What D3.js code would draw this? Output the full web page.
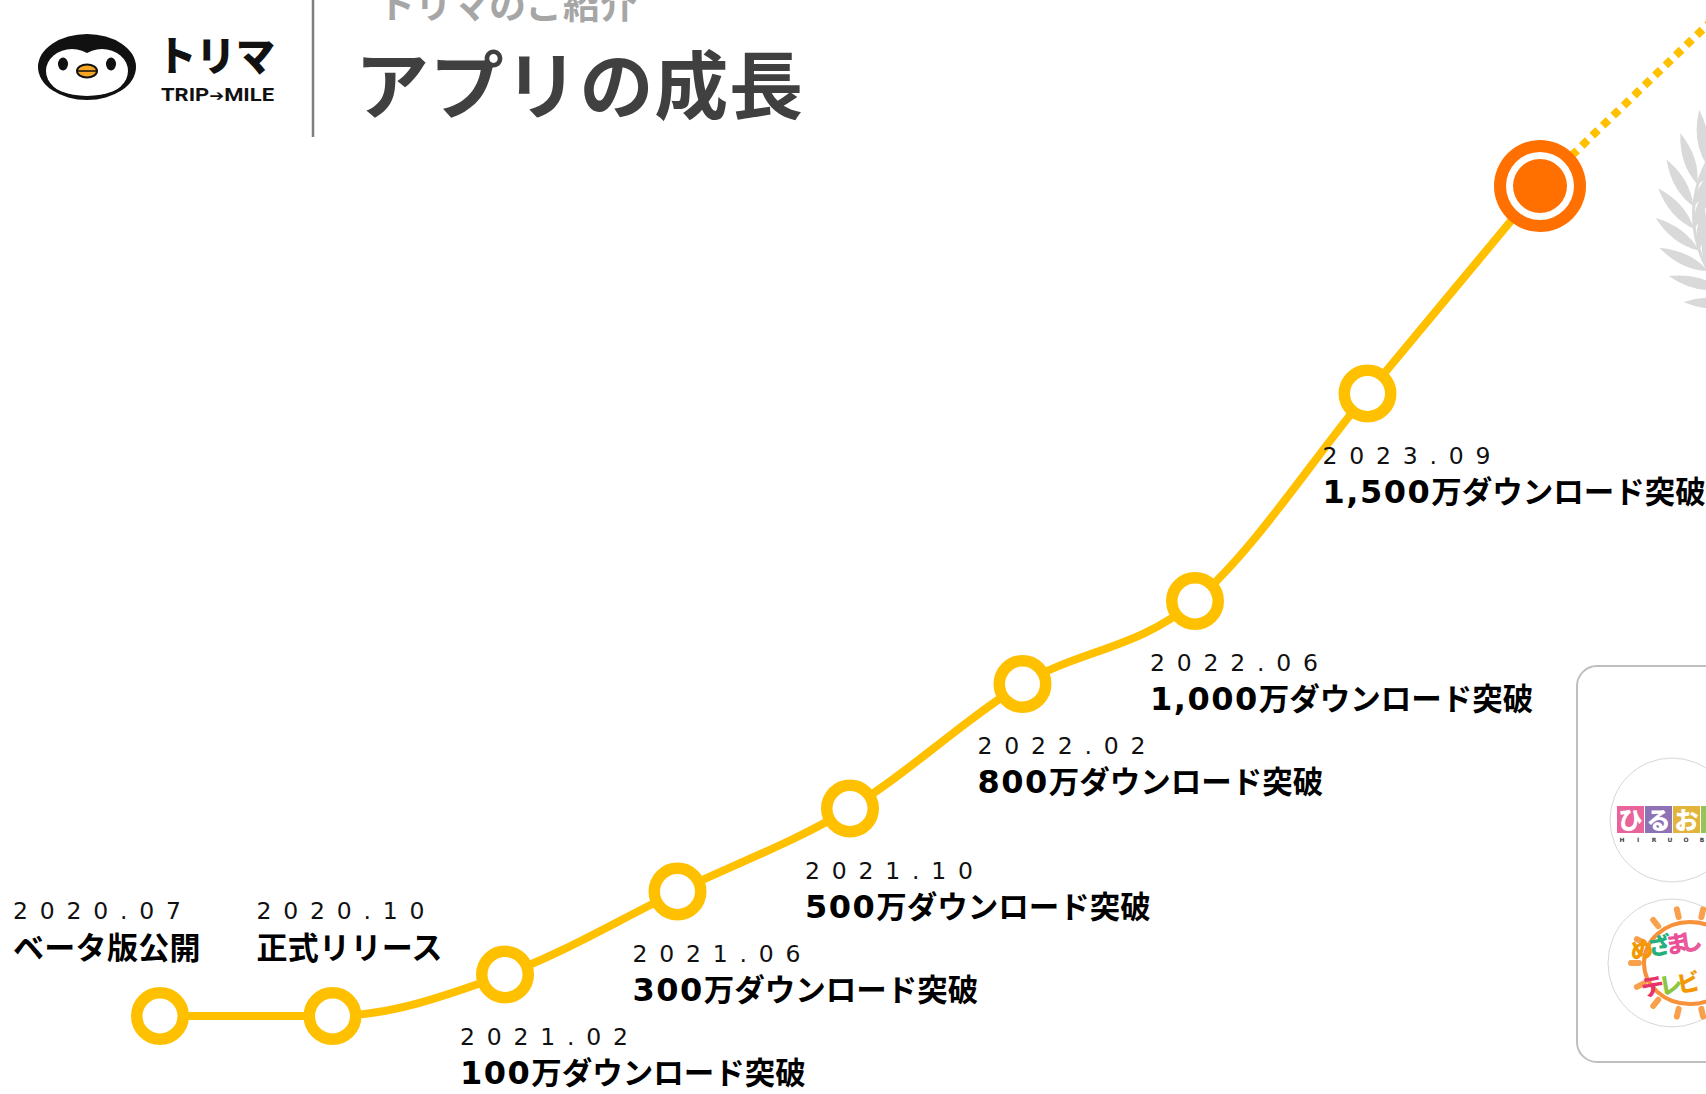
<!DOCTYPE html>
<html><head><meta charset="utf-8">
<script src="https://cdn.jsdelivr.net/npm/d3@7"></script>
<style>html,body{margin:0;padding:0;background:#fff;overflow:hidden}</style>
</head><body>
<svg id="c" width="1706" height="1094" xmlns="http://www.w3.org/2000/svg"></svg>
<script>
// ---------------- data ----------------
const dates = ["2020.07","2020.10","2021.02","2021.06","2021.10","2022.02","2022.06","2023.09"];
const downloads = [0, 0, 100, 300, 500, 800, 1000, 1500];          // 万ダウンロード
const events = ["ベータ版公開", "正式リリース", null, null, null, null, null, null];
const milestoneSuffix = "万ダウンロード突破";
const currentDownloads = 2000;     // large orange marker (estimated)
const projectedDownloads = 2400;   // direction of the dotted projection (estimated)
const title = "アプリの成長";
const subtitle = "トリマのご紹介";

// ---------------- layout ----------------
const W = 1706, H = 1094;
const YELLOW = "#FFC000", ORANGE = "#FF7000";
const svg = d3.select("#c");
svg.append("rect").attr("width", W).attr("height", H).attr("fill", "#fff");

const cats = [...dates, "now", "next"];
const x = d3.scalePoint().domain(cats).range([160, 1712.5]);
const y = d3.scaleLinear().domain([0, 2000]).range([1016, 186]);

const pts = dates.map((d, i) => ({key: d, v: downloads[i], ev: events[i], i}));
const nowPt = {key: "now", v: currentDownloads};
const nextPt = {key: "next", v: projectedDownloads};

// ---------------- header ----------------
const hdr = svg.append("g");
hdr.append("text").attr("x", 378).attr("y", 19)
  .attr("font-family", "'Noto Sans CJK JP'").attr("font-weight", 700)
  .attr("font-size", 37).attr("fill", "#a6a6a6").text(subtitle);
hdr.append("text").attr("x", 355).attr("y", 113)
  .attr("font-family", "'Noto Sans CJK JP'").attr("font-weight", 700)
  .attr("font-size", 74).attr("letter-spacing", 0.8).attr("fill", "#404040").text(title);
hdr.append("line").attr("x1", 313).attr("x2", 313).attr("y1", 0).attr("y2", 137)
  .attr("stroke", "#7f7f7f").attr("stroke-width", 2.5);

// penguin logo
const pg = hdr.append("g");
pg.append("ellipse").attr("cx", 87).attr("cy", 67).attr("rx", 49).attr("ry", 33).attr("fill", "#111");
pg.append("ellipse").attr("cx", 72).attr("cy", 71).attr("rx", 26).attr("ry", 22).attr("fill", "#fff");
pg.append("ellipse").attr("cx", 102).attr("cy", 71).attr("rx", 26).attr("ry", 22).attr("fill", "#fff");
pg.append("ellipse").attr("cx", 87).attr("cy", 81).attr("rx", 36).attr("ry", 15).attr("fill", "#fff");
pg.append("ellipse").attr("cx", 63).attr("cy", 64).attr("rx", 5).attr("ry", 6.5).attr("fill", "#111");
pg.append("ellipse").attr("cx", 111).attr("cy", 64).attr("rx", 5).attr("ry", 6.5).attr("fill", "#111");
pg.append("ellipse").attr("cx", 87).attr("cy", 71).attr("rx", 10).attr("ry", 6.5)
  .attr("fill", "#f5a623").attr("stroke", "#111").attr("stroke-width", 2);
pg.append("line").attr("x1", 78).attr("x2", 96).attr("y1", 71).attr("y2", 71)
  .attr("stroke", "#111").attr("stroke-width", 1.5);

hdr.append("text").attr("x", 157).attr("y", 71)
  .attr("font-family", "'Noto Sans CJK JP'").attr("font-weight", 900)
  .attr("font-size", 41).attr("textLength", 118).attr("lengthAdjust", "spacingAndGlyphs")
  .attr("fill", "#111").text("トリマ");
const tm = hdr.append("text").attr("x", 161).attr("y", 101)
  .attr("font-family", "Roboto").attr("font-weight", 700)
  .attr("font-size", 18.5).attr("textLength", 113).attr("lengthAdjust", "spacingAndGlyphs")
  .attr("fill", "#111");
tm.append("tspan").text("TRIP");
tm.append("tspan").attr("font-family", "'DejaVu Sans'").attr("font-size", 15).text("➔");
tm.append("tspan").text("MILE");

// ---------------- laurel (decor) ----------------
const laurel = svg.append("g").attr("fill", "#d9d9d9");
const lc = {x: 1805, y: 215};
function leaf(cx, cy, dirx, diry, len, wid) {
  const phi = Math.atan2(dirx, -diry) * 180 / Math.PI;
  laurel.append("path")
    .attr("d", `M0,0 Q${wid},${-len*0.45} 0,${-len} Q${-wid},${-len*0.45} 0,0Z`)
    .attr("transform", `translate(${cx},${cy}) rotate(${phi})`);
}
laurel.append("path")
  .attr("d", d3.arc()({innerRadius: 110, outerRadius: 113, startAngle: -Math.PI*0.92, endAngle: -Math.PI*0.2}))
  .attr("transform", `translate(${lc.x},${lc.y})`);
for (let k = 0; k < 9; k++) {
  const th = (127 + k * 11.5) * Math.PI / 180;
  const r = 112;
  const px = lc.x + r * Math.cos(th), py = lc.y + r * Math.sin(th);
  const t = [-Math.sin(th), Math.cos(th)], n = [Math.cos(th), Math.sin(th)];
  const a = 0.6;
  leaf(px, py, t[0]*Math.cos(a) + n[0]*Math.sin(a), t[1]*Math.cos(a) + n[1]*Math.sin(a), 54, 11);
  const b = -0.45;
  leaf(px, py, t[0]*Math.cos(b) + n[0]*Math.sin(b), t[1]*Math.cos(b) + n[1]*Math.sin(b), 44, 9);
}

// ---------------- media card (decor) ----------------
const card = svg.append("g");
card.append("rect").attr("x", 1577).attr("y", 666).attr("width", 220).attr("height", 396)
  .attr("rx", 20).attr("fill", "#fff").attr("stroke", "#bfbfbf").attr("stroke-width", 2);
card.append("circle").attr("cx", 1672).attr("cy", 820).attr("r", 62)
  .attr("fill", "#fff").attr("stroke", "#d6d6d6").attr("stroke-width", 1);
card.append("circle").attr("cx", 1672).attr("cy", 963).attr("r", 64)
  .attr("fill", "#fff").attr("stroke", "#d6d6d6").attr("stroke-width", 1);
const hiruCols = ["#e8649b", "#8e72b5", "#e3b43c", "#95c557"];
const hiruChars = ["ひ", "る", "お", "び"];
hiruCols.forEach((c, i) => {
  card.append("rect").attr("x", 1617 + i * 28).attr("y", 806).attr("width", 27).attr("height", 27).attr("fill", c);
  if (1617 + i * 28 + 14 < W)
    card.append("text").attr("x", 1630.5 + i * 28).attr("y", 829).attr("text-anchor", "middle")
      .attr("font-family", "'Noto Sans CJK JP'").attr("font-weight", 900).attr("font-size", 24)
      .attr("fill", "#fff").text(hiruChars[i]);
});
"HIRUOB".split("").forEach((ch, i) => {
  card.append("text").attr("x", 1622 + i * 16).attr("y", 842).attr("text-anchor", "middle")
    .attr("font-family", "DejaVu Sans").attr("font-weight", 700).attr("font-size", 6)
    .attr("fill", "#444").text(ch);
});
const mz = {x: 1690, y: 963};
for (let k = 0; k < 14; k++) {
  const th = k / 14 * 2 * Math.PI;
  card.append("line")
    .attr("x1", mz.x + 51 * Math.cos(th)).attr("y1", mz.y + 47 * Math.sin(th))
    .attr("x2", mz.x + 59 * Math.cos(th)).attr("y2", mz.y + 55 * Math.sin(th))
    .attr("stroke", "#f8a04c").attr("stroke-width", 6).attr("stroke-linecap", "round");
}
card.append("ellipse").attr("cx", mz.x).attr("cy", mz.y).attr("rx", 46).attr("ry", 41)
  .attr("fill", "#fff").attr("stroke", "#f7923a").attr("stroke-width", 4);
[["め", "#f39800", 1643, 958], ["ざ", "#23b07a", 1661, 954], ["ま", "#e95098", 1678, 952], ["し", "#ea5a9c", 1692, 950],
 ["テ", "#e8336d", 1654, 995], ["レ", "#8cc63f", 1672, 993], ["ビ", "#f39800", 1690, 991]].forEach(([ch, c, cx, cy]) => {
  card.append("text").attr("x", cx).attr("y", cy).attr("text-anchor", "middle")
    .attr("font-family", "'Noto Sans CJK JP'").attr("font-weight", 900).attr("font-size", 23)
    .attr("fill", c).attr("transform", `rotate(-10 ${cx} ${cy})`).text(ch);
});

// ---------------- growth line ----------------
const line = d3.line().x(d => x(d.key)).y(d => y(d.v));
svg.append("path").datum([nowPt, nextPt]).attr("d", line)
  .attr("fill", "none").attr("stroke", YELLOW).attr("stroke-width", 8)
  .attr("stroke-dasharray", "8 6.5");
svg.append("path").datum([...pts, nowPt]).attr("d", line.curve(d3.curveMonotoneX))
  .attr("fill", "none").attr("stroke", YELLOW).attr("stroke-width", 8);

svg.append("g").selectAll("circle").data(pts).join("circle")
  .attr("cx", d => x(d.key)).attr("cy", d => y(d.v)).attr("r", 23.25)
  .attr("fill", "#fff").attr("stroke", YELLOW).attr("stroke-width", 11.5);

const now = svg.append("g");
now.append("circle").attr("cx", x(nowPt.key)).attr("cy", y(nowPt.v)).attr("r", 46).attr("fill", ORANGE);
now.append("circle").attr("cx", x(nowPt.key)).attr("cy", y(nowPt.v)).attr("r", 34).attr("fill", "#fff");
now.append("circle").attr("cx", x(nowPt.key)).attr("cy", y(nowPt.v)).attr("r", 27).attr("fill", ORANGE);

// ---------------- labels ----------------
const aboveDx = [-147, -76];
const fmt = d3.format(",");
const labels = svg.append("g");
pts.forEach(d => {
  const px = x(d.key), py = y(d.v);
  let lx, dy1, dy2;
  if (d.ev) { lx = px + aboveDx[d.i]; dy1 = -97; dy2 = -57; }
  else { lx = px - 45; dy1 = 70; dy2 = 109; }
  labels.append("text").attr("x", lx).attr("y", py + dy1)
    .attr("font-family", "'DejaVu Sans'").attr("font-size", 23.5).attr("letter-spacing", 11.8)
    .attr("fill", "#111").text(d.key);
  const t = labels.append("text").attr("x", lx).attr("y", py + dy2).attr("fill", "#000");
  if (d.ev) {
    t.append("tspan").attr("font-family", "'Noto Sans CJK JP'").attr("font-weight", 700)
      .attr("font-size", 31).attr("letter-spacing", 0.3).text(d.ev);
  } else {
    t.append("tspan").attr("font-family", "'DejaVu Sans'").attr("font-weight", 700)
      .attr("font-size", 32).attr("letter-spacing", 1.5).text(fmt(d.v));
    t.append("tspan").attr("font-family", "'Noto Sans CJK JP'").attr("font-weight", 700)
      .attr("font-size", 30.5).attr("letter-spacing", 0).text(milestoneSuffix);
  }
});
</script>
</body></html>
